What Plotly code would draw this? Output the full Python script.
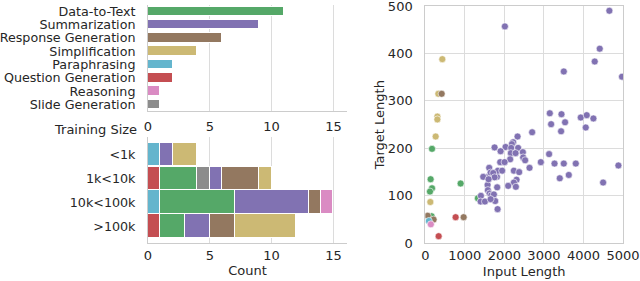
import plotly.graph_objects as go

# ---------------- data ----------------
tasks = ["Data-to-Text", "Summarization", "Response Generation", "Simplification",
         "Paraphrasing", "Question Generation", "Reasoning", "Slide Generation"]
task_counts = [11, 9, 6, 4, 2, 2, 1, 1]

task_colors = {
    "Data-to-Text": "#55A868",
    "Summarization": "#8172B2",
    "Response Generation": "#937860",
    "Simplification": "#CCB974",
    "Paraphrasing": "#64B5CD",
    "Question Generation": "#C44E52",
    "Reasoning": "#DA8BC3",
    "Slide Generation": "#8C8C8C",
}

sizes = ["<1k", "1k<10k", "10k<100k", ">100k"]
stack_order = ["Question Generation", "Paraphrasing", "Data-to-Text", "Slide Generation",
               "Summarization", "Response Generation", "Simplification", "Reasoning"]
qg_by_size = [0, 1, 0, 1]
para_by_size = [1, 0, 1, 0]
d2t_by_size = [0, 3, 6, 2]
slide_by_size = [0, 1, 0, 0]
summ_by_size = [1, 1, 6, 2]
resp_by_size = [0, 3, 1, 2]
simp_by_size = [2, 1, 0, 5]
reas_by_size = [0, 0, 1, 0]
size_counts = {
    "Question Generation": qg_by_size,
    "Paraphrasing": para_by_size,
    "Data-to-Text": d2t_by_size,
    "Slide Generation": slide_by_size,
    "Summarization": summ_by_size,
    "Response Generation": resp_by_size,
    "Simplification": simp_by_size,
    "Reasoning": reas_by_size,
}

# scatter: input length, target length per task
d2t_in = [170, 135, 170, 118, 160, 893, 1330]
d2t_out = [199, 135, 116, 109, 57, 126, 95]
simp_in = [430, 330, 305, 305, 262, 127]
simp_out = [388, 315, 267, 261, 225, 87]
resp_in = [414, 60, 210, 970]
resp_out = [315, 58, 50, 55]
qg_in = [338, 767]
qg_out = [15, 55]
para_in = [90]
para_out = [47]
reas_in = [140]
reas_out = [40]
summ_in = [2013, 4655, 4412, 4285, 3503, 4975, 3149, 3444, 3182, 3535, 3434, 3932, 4083,
           4252, 4058, 2702, 2333, 3503, 3806, 3401, 3629, 4884, 4497, 3268, 1752, 2030,
           2222, 2189, 2172, 2348, 1904, 2164, 2283, 2467, 2475, 2525, 2146, 1894, 2005,
           1616, 1591, 1652, 1465, 1811, 1836, 1944, 2240, 2374, 2636, 2922, 3131, 2308,
           2240, 2096, 2290, 1575, 1818, 1583, 1626, 1667, 1735, 1407, 1399, 1508, 1768,
           1652, 1828, 1717, 1752, 1600]
summ_out = [457, 490, 410, 383, 362, 351, 274, 272, 251, 255, 236, 265, 270,
            263, 244, 234, 225, 168, 168, 137, 144, 164, 128, 168, 202, 203,
            213, 209, 201, 201, 194, 190, 190, 192, 181, 175, 177, 171, 171,
            159, 140, 149, 140, 140, 153, 153, 153, 150, 159, 171, 188, 134,
            128, 121, 119, 123, 118, 112, 105, 101, 103, 100, 88, 88, 89,
            93, 72, 148, 139, 135]

scatter_groups = [
    ("Data-to-Text", d2t_in, d2t_out),
    ("Simplification", simp_in, simp_out),
    ("Response Generation", resp_in, resp_out),
    ("Summarization", summ_in, summ_out),
    ("Question Generation", qg_in, qg_out),
    ("Paraphrasing", para_in, para_out),
    ("Reasoning", reas_in, reas_out),
]

# ---------------- figure ----------------
W, H = 640, 281
TXT = "#262626"
GRID = "#dcdcdc"
SPINE = "#cccccc"
FONT = "DejaVu Sans"
FS = 13

def px_x(p):
    return p / W

def px_y(p):
    return 1 - p / H

tf = dict(size=FS, color=TXT, family=FONT)
cat_tf = dict(size=12.7, color=TXT, family=FONT)

fig = go.Figure()

# top-left: task counts
fig.add_trace(go.Bar(
    x=task_counts, y=tasks, orientation="h",
    marker=dict(color=[task_colors[t] for t in tasks], line=dict(color="white", width=1)),
    width=0.72, xaxis="x", yaxis="y", showlegend=False,
))

# bottom-left: stacked training-size bars
for t in stack_order:
    fig.add_trace(go.Bar(
        x=size_counts[t], y=sizes, orientation="h",
        marker=dict(color=task_colors[t], line=dict(color="white", width=1.5)),
        width=0.98, xaxis="x2", yaxis="y2", showlegend=False,
    ))

# right: scatter
for t, xs, ys in scatter_groups:
    fig.add_trace(go.Scatter(
        x=xs, y=ys, mode="markers",
        marker=dict(color=task_colors[t], size=7, line=dict(color="white", width=0.6)),
        xaxis="x3", yaxis="y3", showlegend=False,
    ))

left_dom = [px_x(148), px_x(347)]
common_x = dict(range=[0, 16.1], tickvals=[0, 5, 10, 15], showgrid=True, gridcolor=GRID,
                gridwidth=1, showline=True, linecolor=SPINE, linewidth=1, zeroline=False,
                ticks="", tickfont=tf, tickangle=0, automargin=False)

fig.update_layout(
    width=W, height=H,
    margin=dict(l=0, r=0, t=0, b=0),
    paper_bgcolor="white", plot_bgcolor="white",
    font=dict(family=FONT, size=FS, color=TXT),
    barmode="stack",
    bargap=0,
    xaxis=dict(domain=left_dom, anchor="y", ticklabelstandoff=3, **common_x),
    yaxis=dict(domain=[px_y(111), px_y(5)], anchor="x", type="category",
               categoryorder="array", categoryarray=tasks,
               tickmode="array", tickvals=tasks, ticktext=tasks,
               range=[7.5, -0.48], showgrid=False, showline=True, linecolor=SPINE,
               linewidth=1, ticks="", ticklabelstandoff=9, ticklabeloverflow="allow",
               tickfont=cat_tf, automargin=False),
    xaxis2=dict(domain=left_dom, anchor="y2",
                title=dict(text="Count", standoff=3, font=tf),
                **common_x),
    yaxis2=dict(domain=[px_y(243), px_y(137)], anchor="x2", type="category",
                categoryorder="array", categoryarray=sizes,
                tickmode="array", tickvals=sizes, ticktext=sizes,
                range=[3.7, -0.72], showgrid=False, showline=True, linecolor=SPINE,
                linewidth=1, ticks="", ticklabelstandoff=9, ticklabeloverflow="allow",
                tickfont=cat_tf, automargin=False),
    xaxis3=dict(domain=[px_x(425.3), px_x(623)], anchor="y3", range=[0, 5000],
                tickvals=[0, 1000, 2000, 3000, 4000, 5000], showgrid=True, gridcolor=GRID,
                showline=True, mirror=True, linecolor=SPINE, linewidth=1, zeroline=False,
                ticks="", tickfont=tf, ticklabeloverflow="allow", tickangle=0,
                automargin=False,
                title=dict(text="Input Length", standoff=4, font=tf)),
    yaxis3=dict(domain=[px_y(243.3), px_y(6)], anchor="x3", range=[0, 500],
                tickvals=[0, 100, 200, 300, 400, 500], showgrid=True, gridcolor=GRID,
                showline=True, mirror=True, linecolor=SPINE, linewidth=1, zeroline=False,
                ticks="", ticklabelstandoff=9, ticklabeloverflow="allow", tickfont=tf,
                automargin=False,
                title=dict(text="Target Length", standoff=0, font=tf)),
    annotations=[dict(text="Training Size", x=px_x(139), y=px_y(129), xref="paper", yref="paper",
                      xanchor="right", yanchor="middle", showarrow=False, font=tf)],
)

fig.write_html("out.html", config={"displayModeBar": False},
               post_script="document.body.style.margin='0';document.body.style.padding='0';")
